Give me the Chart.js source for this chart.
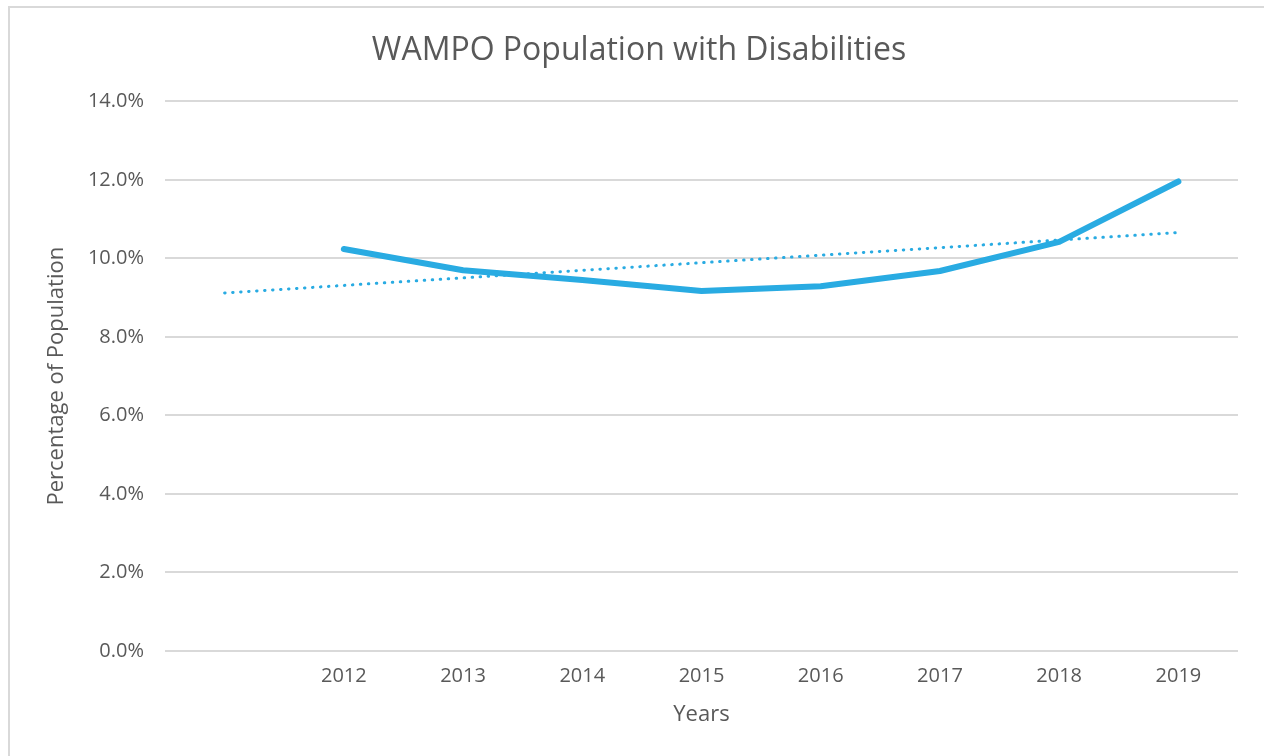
<!DOCTYPE html>
<html lang="en">
  <head>
    <meta charset="UTF-8" />
    <title>WAMPO Population with Disabilities</title>
    <script src="https://cdn.jsdelivr.net/npm/chart.js"></script>
    <style>
      html,
      body {
        margin: 0;
        padding: 0;
        width: 1264px;
        height: 756px;
        overflow: hidden;
        background: #fff;
      }
      #frame {
        position: absolute;
        left: 8px;
        top: 6px;
        width: 1280px;
        height: 780px;
        border: 2px solid #d9d9d9;
      }
      #wrap {
        position: absolute;
        left: 0;
        top: 0;
        width: 1264px;
        height: 756px;
      }
    </style>
  </head>
  <body>
    <div id="frame"></div>
    <div id="wrap"><canvas id="chart"></canvas></div>
    <script>
      // categories (first one is the empty slot the trendline starts from)
      const years = ["", "2012", "2013", "2014", "2015", "2016", "2017", "2018", "2019"];
      // percent of population with disabilities
      const disabled = [null, 10.24, 9.7, 9.45, 9.17, 9.29, 9.68, 10.42, 11.96];
      // linear trendline, endpoints
      const trend = [9.12, null, null, null, null, null, null, null, 10.66];
      const yTicks = [0, 2, 4, 6, 8, 10, 12, 14];

      const blue = "#29abe2";
      const grey = "#595959";
      const font = "'Open Sans', Lato, sans-serif";

      document.addEventListener("DOMContentLoaded", function () {
        const ctx = document.getElementById("chart").getContext("2d");

        new Chart(ctx, {
          type: "line",
          data: {
            labels: years,
            datasets: [
              {
                label: "Population with Disabilities",
                data: disabled,
                borderColor: blue,
                borderWidth: 6,
                borderCapStyle: "round",
                borderJoinStyle: "round",
                pointRadius: 0,
                tension: 0,
                fill: false,
              },
              {
                label: "Linear trend",
                data: trend,
                borderColor: blue,
                borderWidth: 3,
                borderDash: [0.5, 7.5],
                borderCapStyle: "round",
                pointRadius: 0,
                spanGaps: true,
                fill: false,
              },
            ],
          },
          options: {
            responsive: true,
            maintainAspectRatio: false,
            animation: false,
            layout: {
              padding: { left: 40, right: 26, top: 7, bottom: 24 },
            },
            plugins: {
              legend: { display: false },
              tooltip: { enabled: false },
              title: {
                display: true,
                text: "WAMPO Population with Disabilities",
                color: grey,
                font: { family: font, size: 32, weight: "normal" },
                padding: { top: 25, bottom: 31 },
              },
            },
            scales: {
              x: {
                offset: true,
                grid: { display: false, drawTicks: false },
                border: { display: false },
                ticks: {
                  color: grey,
                  padding: 13,
                  maxRotation: 0,
                  autoSkip: false,
                  font: { family: font, size: 20 },
                },
                title: {
                  display: true,
                  text: "Years",
                  color: grey,
                  font: { family: font, size: 22 },
                  padding: { top: 4, bottom: 4 },
                },
                afterFit: function (scale) {
                  scale.height = 81;
                },
              },
              y: {
                min: 0,
                max: 14,
                afterBuildTicks: function (scale) {
                  scale.ticks = yTicks.map((v) => ({ value: v }));
                },
                grid: { color: "#d9d9d9", lineWidth: 2, drawTicks: false },
                border: { display: false },
                ticks: {
                  color: grey,
                  padding: 21,
                  font: { family: font, size: 20 },
                  callback: (v) => v.toFixed(1) + "%",
                },
                title: {
                  display: true,
                  text: "Percentage of Population",
                  color: grey,
                  font: { family: font, size: 22 },
                  padding: { top: 4, bottom: 4 },
                },
                afterFit: function (scale) {
                  scale.width = 125;
                },
              },
            },
          },
        });
      });
    </script>
  </body>
</html>
